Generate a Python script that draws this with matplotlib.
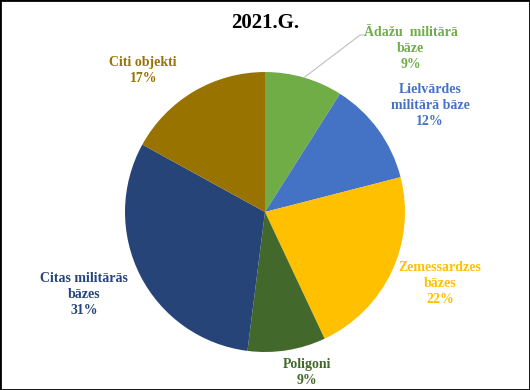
import numpy as np
import matplotlib
matplotlib.use('Agg')
import matplotlib.pyplot as plt
from matplotlib.patches import Rectangle

plt.rcParams['font.family'] = ['Liberation Serif', 'DejaVu Serif']

# dati
kategorijas = ['Ādažu  militārā\nbāze', 'Lielvārdes\nmilitārā bāze', 'Zemessardzes\nbāzes',
               'Poligoni', 'Citas militārās\nbāzes', 'Citi objekti']
procenti = [9, 12, 22, 9, 31, 17]
krasas = ['#70AD47', '#4472C4', '#FFC000', '#43682B', '#264478', '#997300']
virsraksts = '2021.G.'

# etiketes vietas (datu koordinātēs, rādiuss = 1)
etiketes_xy = [(1.04, 1.17), (1.18, 0.76), (1.25, -0.51), (0.30, -1.15), (-1.29, -0.59), (-0.87, 1.01)]

fig = plt.figure(figsize=(5.3, 3.9), dpi=100)
ax = fig.add_axes([0, 0, 1, 1])

wedges, _ = ax.pie(procenti, colors=krasas, startangle=90, counterclock=False,
                   radius=1.0, wedgeprops=dict(linewidth=0))

for w, nos, p, (x, y), c in zip(wedges, kategorijas, procenti, etiketes_xy, krasas):
    ax.text(x, y, '%s\n%d%%' % (nos, p), ha='center', va='center', color=c,
            fontsize=10, fontweight='bold', linespacing=1.3)

# līnija uz Ādažu etiķeti
w = wedges[0]
ang = np.deg2rad((w.theta1 + w.theta2) / 2)
x0, y0 = np.cos(ang), np.sin(ang)
ax.plot([x0, 0.68, 0.72], [y0, 1.265, 1.265], color='#BFBFBF', lw=0.8)

ax.text(0, 1.35, virsraksts, ha='center', va='center', fontsize=15, fontweight='bold')

ax.set_xlim(-1.893, 1.893)
ax.set_ylim(-1.271, 1.514)
ax.set_aspect('equal')
ax.axis('off')

fig.patches.append(Rectangle((0, 0), 1, 1, transform=fig.transFigure, fill=False,
                             edgecolor='black', linewidth=2))

fig.savefig('out.png', dpi=100)
